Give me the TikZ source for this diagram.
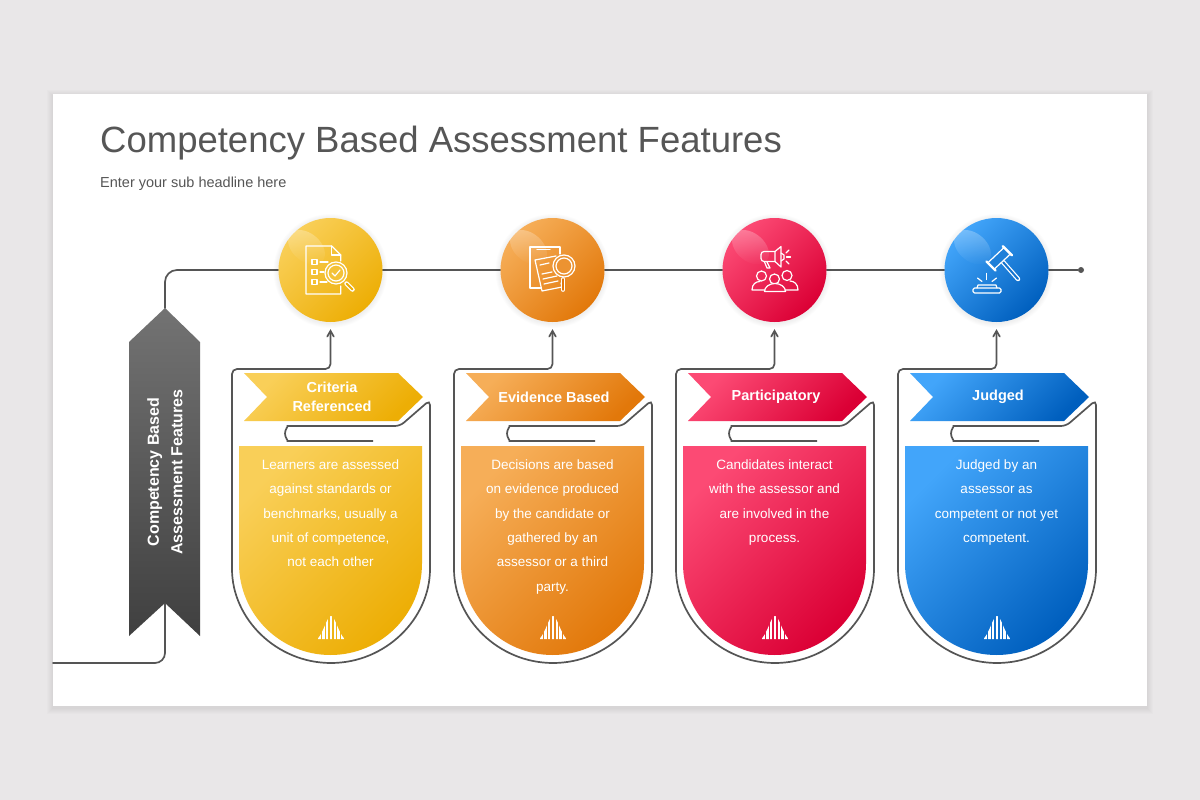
\documentclass[tikz,border=0pt]{standalone}
\usepackage{fontspec}
\setmainfont{Liberation Sans}
\usetikzlibrary{shapes.geometric, arrows, fadings}
\definecolor{pagegrey}{HTML}{E9E7E8}
\definecolor{linegrey}{HTML}{555555}
\definecolor{titlegrey}{HTML}{565656}
\tikzstyle{line} = [draw=linegrey, line width=1.7pt, line cap=round]
\tikzstyle{outline} = [draw=linegrey, line width=1.7pt, rounded corners=5pt, <-, >=angle 60, shorten <=7pt]
\tikzstyle{yellowfill} = [top color=yellow!70!orange!70!white, bottom color=yellow!70!orange!95!black, shading angle=45]
\tikzstyle{orangefill} = [top color=orange!70!white, bottom color=orange!90!red!90!black, shading angle=45]
\tikzstyle{redfill} = [top color=red!75!white, bottom color=red!90!black, shading angle=45]
\tikzstyle{bluefill} = [top color=blue!50!cyan!70!white, bottom color=blue!60!cyan!80!black, shading angle=45]
\tikzstyle{badge} = [circle, minimum size=104pt, inner sep=0pt]
\tikzstyle{icon} = [draw=white, line width=1.2pt, line cap=round, line join=round]
\tikzstyle{headtext} = [text=white, align=center, font=\fontsize{14.5}{19}\selectfont\bfseries]
\tikzstyle{bodytext} = [text=white, align=center, anchor=north, font=\fontsize{13.5}{24.4}\selectfont]
\definecolor{yellowA}{HTML}{F9CF58}\definecolor{yellowB}{HTML}{EDAE05}
\definecolor{orangeA}{HTML}{F6AE58}\definecolor{orangeB}{HTML}{E2780A}
\definecolor{redA}{HTML}{FC4A74}\definecolor{redB}{HTML}{DB0035}
\definecolor{blueA}{HTML}{42A5FA}\definecolor{blueB}{HTML}{005FBE}
\tikzstyle{yellowfill} = [top color=yellowA, bottom color=yellowB, shading angle=45]
\tikzstyle{orangefill} = [top color=orangeA, bottom color=orangeB, shading angle=45]
\tikzstyle{redfill} = [top color=redA, bottom color=redB, shading angle=45]
\tikzstyle{bluefill} = [top color=blueA, bottom color=blueB, shading angle=45]

% one card: name, x offset, fill style, head, text
\newcommand{\featurecard}[5]{
  \begin{scope}[xshift=#2]
    \draw [outline] (#1.south) -- (330.5,369) -- (232,369) -- (232,564) arc[start angle=180, end angle=0, radius=99] -- (430,400) -- (400,426) -- (292.5,426) arc[start angle=-90, end angle=-270, radius=7.5] -- (373,441);
    \path [#3] (244,373) -- (398,373) -- (423,397) -- (398,421) -- (244,421) -- (267,397) -- cycle;
    \path [#3] (239,446) -- (422,446) -- (422,563.5) arc[start angle=0, end angle=180, radius=91.5] -- cycle;
    \node (#1head) [headtext] at (332,397) {#4};
    \node (#1text) [bodytext] at (330.5,456) {#5};
    \begin{scope}
      \clip (317.5,639) .. controls (324,632) and (327,616) .. (331,616) .. controls (335,616) and (338,632) .. (344.5,639) -- cycle;
      \foreach \dx in {-11.4,-7.6,-3.8,0,3.8,7.6,11.4}
        \fill [white] (331+\dx-1.2,614) rectangle (331+\dx+1.2,640);
    \end{scope}
  \end{scope}
}

\begin{document}
\begin{tikzpicture}[x=1pt, y=-1pt, node distance=222pt]
  \fill [pagegrey] (0,0) rectangle (1200,800);
  \useasboundingbox (0,0) rectangle (1200,800);
  \foreach \s in {1,...,6}
    \fill [black, opacity=0.012] (53-\s,94-\s+2) rectangle (1147+\s,706+\s+2);
  \fill [white] (53,94) rectangle (1147,706);

  \node (title) [anchor=west, text=titlegrey, font=\fontsize{36.5}{40}\selectfont, inner sep=0pt] at (100,143) {Competency Based Assessment Features};
  \node (subtitle) [anchor=west, text=titlegrey, font=\fontsize{14.5}{18}\selectfont, inner sep=0pt] at (100,184) {Enter your sub headline here};

  \node (criteria) [badge] at (330.5,270) {};
  \node (evidence) [badge, right of=criteria] {};
  \node (particip) [badge, right of=evidence] {};
  \node (judged) [badge, right of=particip] {};
  \node (enddot) [circle, fill=linegrey, minimum size=6pt, inner sep=0pt] at (1081,270) {};

  \coordinate (bannertip) at (165,308);
  \coordinate (bannernotch) at (165,603);
  \coordinate (leftedge) at (53,663);
  \draw [line, rounded corners=12pt] (bannertip) |- (criteria.west);
  \draw [line, rounded corners=10pt] (bannernotch) |- (leftedge);
  \draw [line] (criteria) -- (evidence);
  \draw [line] (evidence) -- (particip);
  \draw [line] (particip) -- (judged);
  \draw [line] (judged) -- (enddot);

  % banner
  \path [top color=black!55!white, bottom color=black!75!white] (bannertip) -- (200,342) -- (200,636) -- (bannernotch) -- (129,636) -- (129,342) -- cycle;
  \node (bannertext) [rotate=90, text=white, align=center, font=\fontsize{16}{23.5}\selectfont\bfseries] at (165,472) {Competency Based\\Assessment Features};

  % badges
  \foreach \name/\fillstyle in {criteria/yellowfill, evidence/orangefill, particip/redfill, judged/bluefill} {
    \foreach \s in {1,...,5}
      \fill [black, opacity=0.012] (\name) ++(0,1) circle[radius=52+\s];
    \path [\fillstyle] (\name) circle[radius=52];
    \fill [white, fill opacity=0.28, path fading=south, rotate around={-40:(\name)}] (\name) ++(-33,-2) ellipse[x radius=21, y radius=14];
  }

  % cards
  \featurecard{criteria}{0pt}{yellowfill}{Criteria\\Referenced}{Learners are assessed\\against standards or\\benchmarks, usually a\\unit of competence,\\not each other}
  \featurecard{evidence}{222pt}{orangefill}{Evidence Based}{Decisions are based\\on evidence produced\\by the candidate or\\gathered by an\\assessor or a third\\party.}
  \featurecard{particip}{444pt}{redfill}{Participatory}{Candidates interact\\with the assessor and\\are involved in the\\process.}
  \featurecard{judged}{666pt}{bluefill}{Judged}{Judged by an\\assessor as\\competent or not yet\\competent.}

  % checklist icon
  \draw [icon] (340.7,261) -- (340.7,255) -- (331.7,246) -- (306,246) -- (306,294) -- (340.7,294) -- (340.7,286);
  \draw [icon] (331.7,246) -- (331.7,255) -- (340.7,255);
  \foreach \y in {262,272,282} \draw [icon] (312,\y-2.5) rectangle (317,\y+2.5);
  \draw [icon] (320,262) -- (328,262);
  \draw [icon] (320,272) -- (324,272);
  \draw [icon] (320,282) -- (327,282);
  \draw [icon, fill=yellowA!60!yellowB] (336,273) circle[radius=11];
  \draw [icon] (336,273) circle[radius=8];
  \draw [icon] (332,273) -- (335,276) -- (340,270);
  \draw [white, line width=4.5pt, line cap=round] (346.5,283.5) -- (352.5,289.5);
  \draw [yellowB, line width=2pt, line cap=round] (346.5,283.5) -- (352.5,289.5);

  % document icon
  \draw [icon] (541,288) -- (530,288) -- (530,247) -- (560,247) -- (560,254);
  \draw [icon] (537,249.5) -- (550,249.5);
  \draw [icon] (556,256) -- (535,260) -- (542,291) -- (562,287) -- (561,283);
  \draw [icon] (540,265) -- (549,263);
  \draw [icon] (542,274) -- (552,272);
  \draw [icon] (543,279) -- (557,276);
  \draw [icon] (544,284) -- (558,281);
  \draw [icon, fill=orangeA!50!orangeB] (564,266) circle[radius=11];
  \draw [icon] (564,266) circle[radius=8];
  \draw [white, line width=3.6pt, line cap=round] (563,279) -- (563,290);
  \draw [orangeB, line width=1.4pt, line cap=round] (563,279) -- (563,290);

  % megaphone icon
  \draw [icon, rounded corners=3pt] (775,251.5) -- (761,251.5) -- (761,261.5) -- (775,261.5);
  \draw [icon] (775,251.5) -- (781,246.5) -- (781,267) -- (775,261.5) -- cycle;
  \draw [icon] (781,253) -- (784,255) -- (784,259) -- (781,261);
  \draw [icon] (767,262) -- (770,268) -- (767,268) -- (764.5,262);
  \draw [icon] (786,253) -- (789,250);
  \draw [icon] (786.5,257) -- (790.5,257);
  \draw [icon] (786,261) -- (789,264);
  \draw [icon] (761.5,276) circle[radius=5];
  \draw [icon] (787,275.5) circle[radius=5];
  \draw [icon] (766,290) -- (752,290) .. controls (752,284) and (756,281.5) .. (760,281.5);
  \draw [icon] (784.5,290) -- (798,290) .. controls (798,284) and (794,281) .. (790,281);
  \draw [icon, fill=redA!45!redB] (774.5,279) circle[radius=5];
  \draw [icon, fill=redA!45!redB] (764.5,291.5) arc[start angle=180, end angle=360, x radius=10.5, y radius=8] -- cycle;

  % gavel icon
  \draw [white, line width=4.5pt, line cap=round] (1003,262) -- (1018,279);
  \draw [blueA!30!blueB, line width=2pt, line cap=round] (1003,262) -- (1018,279);
  \draw [icon, fill=blueA!45!blueB] (987.8,262.8) -- (1004.1,247.5) -- (1010.5,253.9) -- (994.2,269.2) -- cycle;
  \draw [white, line width=2.4pt, line cap=round] (986.4,261.4) -- (995.6,270.6);
  \draw [white, line width=2.4pt, line cap=round] (1002.7,246.1) -- (1011.9,255.3);
  \draw [icon, rounded corners=1.5pt] (973,288) rectangle (1001,293);
  \draw [icon] (977,288) -- (978,285) -- (996,285) -- (997,288);
  \draw [icon] (986.7,273.5) -- (986.7,279.5);
  \draw [icon] (977.5,278) -- (982,281.5);
  \draw [icon] (996.5,278) -- (992,281.5);
\end{tikzpicture}
\end{document}
